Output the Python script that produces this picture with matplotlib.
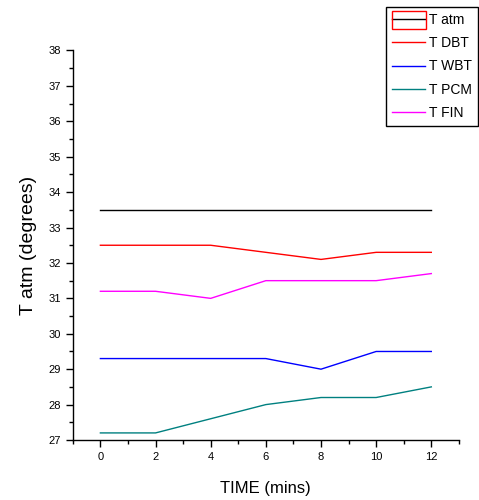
import matplotlib
matplotlib.use("Agg")
import matplotlib.pyplot as plt
from matplotlib.ticker import MultipleLocator
from matplotlib.patches import Rectangle

plt.rcParams['font.family'] = ['Liberation Sans', 'DejaVu Sans']

# ─── DATA ──────────────────────────────────────────────────────────────────
time_mins = [0, 2, 4, 6, 8, 10, 12]
t_atm = [33.5, 33.5, 33.5, 33.5, 33.5, 33.5, 33.5]
t_dbt = [32.5, 32.5, 32.5, 32.3, 32.1, 32.3, 32.3]
t_wbt = [29.3, 29.3, 29.3, 29.3, 29.0, 29.5, 29.5]
t_pcm = [27.2, 27.2, 27.6, 28.0, 28.2, 28.2, 28.5]
t_fin = [31.2, 31.2, 31.0, 31.5, 31.5, 31.5, 31.7]

series = [
    ("T atm", t_atm, "#000000"),
    ("T DBT", t_dbt, "#ff0000"),
    ("T WBT", t_wbt, "#0000ff"),
    ("T PCM", t_pcm, "#008080"),
    ("T FIN", t_fin, "#ff00ff"),
]

# ─── PLOT ──────────────────────────────────────────────────────────────────
fig = plt.figure(figsize=(4.79, 5.00), dpi=100)
ax = fig.add_axes([0.152, 0.12, 0.806, 0.779])

for name, vals, col in series:
    ax.plot(time_mins, vals, color=col, linewidth=1.0, label=name)

ax.set_xlim(-1, 13)
ax.set_ylim(27, 38)
ax.xaxis.set_major_locator(MultipleLocator(2))
ax.xaxis.set_minor_locator(MultipleLocator(1))
ax.yaxis.set_major_locator(MultipleLocator(1))
ax.yaxis.set_minor_locator(MultipleLocator(0.5))
ax.tick_params(which='major', length=5, width=1, labelsize=8, direction='out')
ax.tick_params(which='minor', length=3, width=1, direction='out')
for s in ['top', 'right']:
    ax.spines[s].set_visible(False)
for s in ['left', 'bottom']:
    ax.spines[s].set_linewidth(1.0)

ax.set_xlabel("TIME (mins)", fontsize=12, labelpad=14)
ax.set_ylabel("T atm (degrees)", fontsize=14, labelpad=8)

leg = fig.legend(loc='upper right', bbox_to_anchor=(0.998, 0.986),
                 fontsize=10, frameon=True, fancybox=False, edgecolor='black',
                 framealpha=1, handlelength=2.4, handletextpad=0.3,
                 labelspacing=0.68, borderpad=0.4, borderaxespad=0)
leg.get_frame().set_linewidth(1.0)

# red selection box around the first legend handle
fig.canvas.draw()
bb = leg.legend_handles[0].get_window_extent(fig.canvas.get_renderer())
inv = fig.transFigure.inverted()
(x0, y0), (x1, y1) = inv.transform([(bb.x0, bb.y0 - 10), (bb.x1 + 1, bb.y1 + 8)])
fig.patches.append(Rectangle((x0, y0), x1 - x0, y1 - y0, fill=False,
                             edgecolor='#ff0000', linewidth=1.0, zorder=10,
                             transform=fig.transFigure, figure=fig))

fig.savefig("out.png", dpi=100)
